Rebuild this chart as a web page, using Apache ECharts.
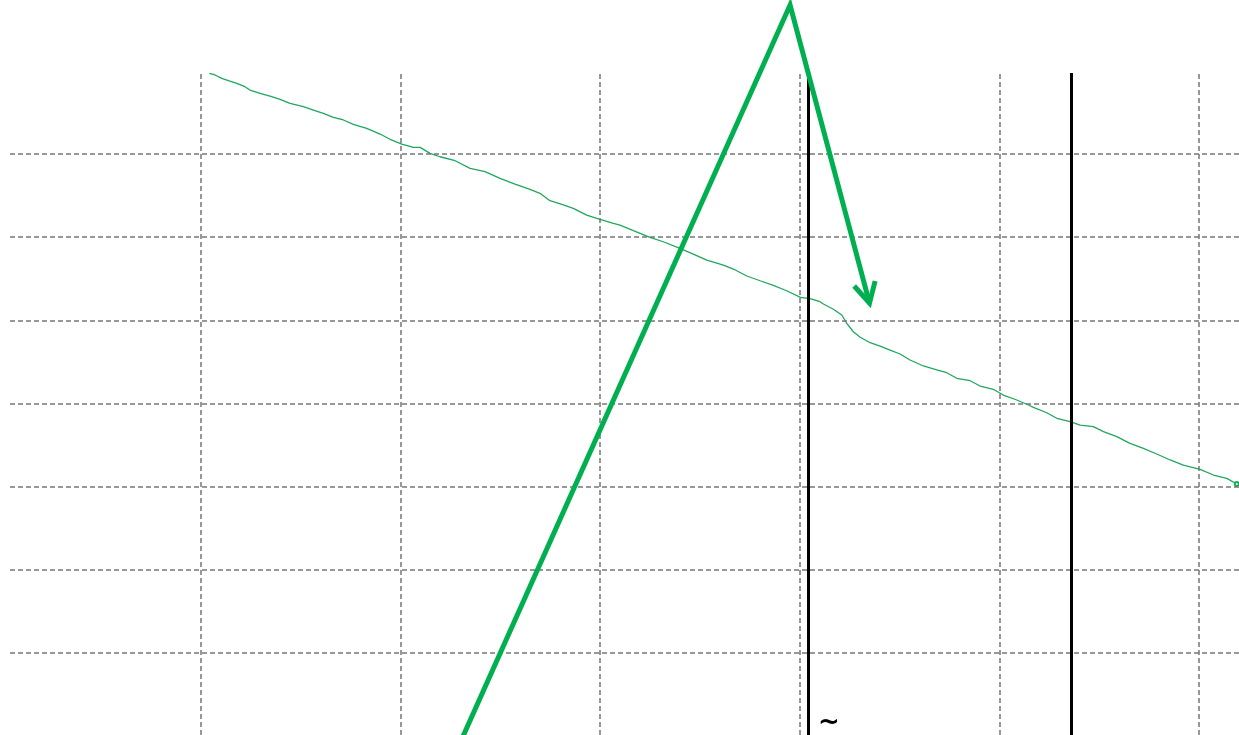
<!DOCTYPE html>
<html>
<head>
<meta charset="utf-8">
<script src="https://cdn.jsdelivr.net/npm/echarts@6/dist/echarts.min.js"></script>
<style>
    html, body { margin: 0; padding: 0; background: #ffffff; }
    #chart { width: 1239px; height: 735px; }
</style>
</head>
<body>
<div id="chart"></div>
<script>
// ============================================
// 數據
// ============================================

// measured trace (x, y)
const traceX = [10.42, 10.70, 11.04, 11.37, 11.79, 12.20, 12.45, 12.96, 13.54, 13.96,
    14.46, 15.13, 15.63, 16.13, 16.63, 17.13, 17.63, 18.30, 18.97, 19.47,
    20.06, 20.64, 20.98, 21.47, 21.97, 22.73, 23.48, 24.23, 24.98, 25.73,
    26.48, 26.98, 27.48, 28.15, 28.65, 29.32, 29.99, 30.66, 30.99, 31.66,
    32.49, 33.16, 33.99, 34.66, 35.34, 36.17, 36.67, 37.34, 38.01, 38.67,
    39.34, 40.03, 40.51, 41.01, 41.18, 41.68, 42.10, 42.35, 42.68, 43.02,
    43.52, 44.02, 44.52, 45.02, 45.52, 46.19, 46.86, 47.36, 47.86, 48.53,
    49.03, 49.69, 50.19, 50.87, 51.45, 51.70, 52.37, 52.87, 53.54, 54.04,
    54.70, 55.21, 55.88, 56.54, 57.21, 57.88, 58.55, 59.21, 60.05, 60.72,
    61.39, 61.89];
const traceY = [79.70, 79.50, 79.10, 78.81, 78.50, 78.09, 77.69, 77.30, 76.89, 76.58,
    76.09, 75.69, 75.29, 74.89, 74.41, 74.09, 73.57, 73.09, 72.40, 71.77,
    71.20, 70.80, 70.80, 70.08, 69.67, 69.19, 68.28, 67.87, 67.08, 66.39,
    65.75, 65.27, 64.38, 63.87, 63.47, 62.66, 62.15, 61.67, 61.46, 60.78,
    59.98, 59.45, 58.66, 57.97, 57.25, 56.65, 56.17, 55.33, 54.76, 54.21,
    53.56, 52.77, 52.60, 52.24, 51.96, 51.33, 50.64, 49.64, 48.63, 47.96,
    47.31, 46.91, 46.43, 45.95, 45.23, 44.51, 44.03, 43.70, 43.03, 42.74,
    42.10, 41.71, 41.02, 40.42, 39.82, 39.54, 38.89, 38.22, 37.81, 37.41,
    37.21, 36.61, 36.01, 35.21, 34.61, 33.93, 33.21, 32.60, 32.09, 31.40,
    31.00, 30.32];

// 網格線位置
const gridX = [10, 20, 30, 40, 50, 60];
const gridY = [10, 20, 30, 40, 50, 60, 70];

// 黑色標記線
const markerX = [40.41, 53.59];

// 手繪箭頭 (x, y)
const arrowX = [22.93, 39.51, 43.49];
const arrowY = [-1.06, 87.91, 52.08];
const headX = [42.72, 43.49, 43.77];
const headY = [54.13, 52.08, 54.73];

const xMin = 0.43, xMax = 62.0;
const yMin = 0.14, yMax = 79.74;

// ============================================
// 圖表
// ============================================

const zip = (xs, ys) => xs.map((x, i) => [x, ys[i]]);

const traceData = zip(traceX, traceY).map((p, i, arr) => {
    if (i === arr.length - 1) {
        return { value: p, symbol: 'emptyCircle', symbolSize: 4 };
    }
    return p;
});

const dashed = { color: '#777777', width: 1.5, type: [5, 3] };

const chart = echarts.init(document.getElementById('chart'));
chart.setOption({
    animation: false,
    backgroundColor: '#ffffff',
    grid: { left: 10, top: 73, right: 0, bottom: 0 },
    xAxis: {
        type: 'value', min: xMin, max: xMax,
        axisLine: { show: false }, axisTick: { show: false },
        axisLabel: { show: false }, splitLine: { show: false }
    },
    yAxis: {
        type: 'value', min: yMin, max: yMax,
        axisLine: { show: false }, axisTick: { show: false },
        axisLabel: { show: false }, splitLine: { show: false }
    },
    graphic: [{
        type: 'text',
        left: 818, top: 710,
        style: {
            text: '~', fontFamily: 'DejaVu Sans', fontSize: 26,
            fontWeight: 'bold', fill: '#000000'
        }
    }],
    series: [
        {
            // grid lines
            type: 'line', data: [], silent: true,
            markLine: {
                silent: true, symbol: 'none', label: { show: false },
                lineStyle: dashed,
                data: gridX.map(v => ({ xAxis: v })).concat(gridY.map(v => ({ yAxis: v })))
            },
            z: 1
        },
        {
            type: 'line',
            data: traceData,
            symbol: 'none',
            lineStyle: { color: '#1fa85c', width: 1.3 },
            itemStyle: { color: '#1fa85c' },
            z: 2
        },
        {
            // vertical markers
            type: 'line', data: [], silent: true,
            markLine: {
                silent: true, symbol: 'none', label: { show: false },
                lineStyle: { color: '#000000', width: 3, type: 'solid' },
                data: markerX.map(v => ({ xAxis: v }))
            },
            z: 3
        },
        {
            type: 'line',
            data: zip(arrowX, arrowY),
            symbol: 'none', clip: false,
            lineStyle: { color: '#00b050', width: 5, join: 'miter', miterLimit: 20 },
            z: 5
        },
        {
            type: 'line',
            data: zip(headX, headY),
            symbol: 'none', clip: false,
            lineStyle: { color: '#00b050', width: 5, join: 'miter', miterLimit: 20 },
            z: 5
        }
    ]
});
</script>
</body>
</html>
